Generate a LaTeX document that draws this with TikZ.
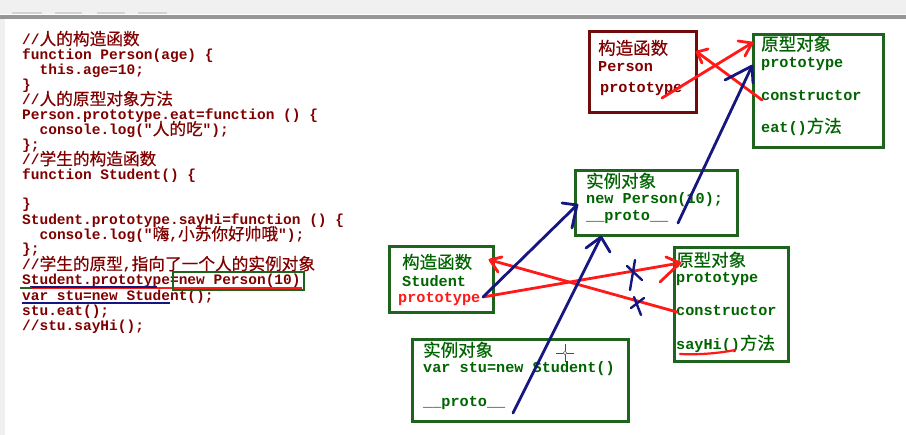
\documentclass[tikz,border=0pt]{standalone}
\usepackage{fontspec}
\setmonofont{Liberation Mono}
\newfontfamily\cjk[Scale=1.15,FakeBold=0.5]{Noto Sans CJK SC}
\newcommand\zh[1]{{\cjk\mdseries #1}}
\newcommand\codefnt{\fontsize{14.5}{15}\selectfont\ttfamily\bfseries}
\newcommand\boxfnt{\fontsize{15.2}{16}\selectfont\ttfamily\bfseries}
\definecolor{codered}{RGB}{128,0,0}
\definecolor{txtgreen}{RGB}{0,100,0}
\definecolor{boxgreen}{RGB}{30,100,30}
\definecolor{boxmaroon}{RGB}{112,12,12}
\definecolor{penred}{RGB}{255,25,25}
\definecolor{penblue}{RGB}{22,22,128}
\definecolor{barfill}{RGB}{240,240,240}
\definecolor{barline}{RGB}{150,150,150}
\begin{document}
\begin{tikzpicture}[x=1pt,y=-1pt,
  code/.style={anchor=base west,inner sep=0pt,font=\codefnt,text=codered,yshift=-5pt},
  btext/.style={anchor=base west,inner sep=0pt,font=\boxfnt,text=txtgreen,yshift=-5.5pt},
  gbox/.style={draw=boxgreen,line width=3pt,anchor=north west,inner sep=0pt},
  mbox/.style={draw=boxmaroon,line width=3pt,anchor=north west,inner sep=0pt},
  redpen/.style={draw=penred,line width=2.8pt,line cap=round,line join=round},
  bluepen/.style={draw=penblue,line width=2.8pt,line cap=round,line join=round}]
\useasboundingbox (0,0) rectangle (906,435);
\fill[white] (0,0) rectangle (906,435);
% window chrome
\fill[barfill] (0,0) rectangle (906,14);
\fill[barline] (0,15) rectangle (906,19);
\fill[barfill] (0,19) rectangle (5,435);
\foreach \a/\b in {12/42,55/82,97/125,138/167}{\fill[gray!35] (\a,12) rectangle (\b,14.5);}
% code
\node[code] (c1) at (22,40) {//\zh{人的构造函数}};
\node[code] (c2) at (22,55) {function Person(age) \{};
\node[code] (c3) at (39.4,70) {this.age=10;};
\node[code] (c4) at (22,85) {\}};
\node[code] (c5) at (22,100) {//\zh{人的原型对象方法}};
\node[code] (c6) at (22,115) {Person.prototype.eat=function () \{};
\node[code] (c7) at (39.4,130) {console.log("\zh{人的吃}");};
\node[code] (c8) at (22,145) {\};};
\node[code] (c9) at (22,160) {//\zh{学生的构造函数}};
\node[code] (c10) at (22,175) {function Student() \{};
\node[code] (c12) at (22,204) {\}};
\node[code] (c13) at (22,220) {Student.prototype.sayHi=function () \{};
\node[code] (c14) at (39.4,235) {console.log("\zh{嗨},\zh{小苏你好帅哦}");};
\node[code] (c15) at (22,249) {\};};
\node[code] (c16) at (22,265) {//\zh{学生的原型},\zh{指向了一个人的实例对象}};
\node[code] (c17) at (22,280) {Student.prototype=new Person(10)};
\node[code] (c18) at (22,296) {var stu=new Student();};
\node[code] (c19) at (22,311) {stu.eat();};
\node[code] (c20) at (22,326) {//stu.sayHi();};
% code annotations
\draw[draw=penred,line width=2pt] (30,288.5) -- (302,288.5);
\draw[draw=penblue,line width=2.4pt] (30,287) -- (157,287);
\draw[draw=boxgreen,line width=2.2pt] (20,288) -- (32,288);
\draw[draw=penblue,line width=2.4pt] (22,303) -- (170,303);
\draw[draw=boxgreen,line width=2.6pt] (173,272) rectangle (304,290);
% boxes
\node[mbox,minimum width=107pt,minimum height=81pt] (pctor) at (588,30) {};
\node[btext,text=codered] (pct1) at (598,49) {\zh{构造函数}};
\node[btext,text=codered] (pct2) at (598,66) {Person};
\node[btext,text=codered] (pct3) at (600,87) {prototype};
\node[gbox,minimum width=130pt,minimum height=113pt] (pproto) at (752,33) {};
\node[btext] (pp1) at (761,45) {\zh{原型对象}};
\node[btext] (pp2) at (761,62) {prototype};
\node[btext] (pp3) at (761,95) {constructor};
\node[btext] (pp4) at (761,127) {eat()\zh{方法}};
\node[gbox,minimum width=162pt,minimum height=65pt] (pinst) at (574,169) {};
\node[btext] (pi1) at (586,182) {\zh{实例对象}};
\node[btext] (pi2) at (586,198) {new Person(10);};
\node[btext] (pi3) at (586,215) {\_\_proto\_\_};
\node[gbox,minimum width=104pt,minimum height=66pt] (sctor) at (388,245) {};
\node[btext] (sc1) at (402,263) {\zh{构造函数}};
\node[btext] (sc2) at (402,281) {Student};
\node[btext,text=penred] (sc3) at (398,297) {prototype};
\node[gbox,minimum width=114pt,minimum height=114pt] (sproto) at (673,246) {};
\node[btext] (sp1) at (676,261) {\zh{原型对象}};
\node[btext] (sp2) at (676,277) {prototype};
\node[btext] (sp3) at (676,310) {constructor};
\node[btext] (sp4) at (676,344) {sayHi()\zh{方法}};
\node[gbox,minimum width=216pt,minimum height=82pt] (stu) at (411,338) {};
\node[btext] (st1) at (423,351) {\zh{实例对象}};
\node[btext] (st2) at (423,367) {var stu=new Student()};
\node[btext] (st3) at (423,401) {\_\_proto\_\_};
% pen strokes: Person section
\coordinate (a1s) at (662,98);  \coordinate (a1e) at (752,43);
\coordinate (a2s) at (762,100); \coordinate (a2e) at (697,52);
\coordinate (a3s) at (678,223); \coordinate (a3e) at (752,66);
\draw[redpen] (a1s) -- (a1e);
\draw[redpen] (738,41) -- (a1e) -- (745,56);
\draw[redpen] (a2s) -- (a2e);
\draw[redpen] (708,49) -- (a2e) -- (702,63);
\draw[bluepen] (a3s) -- (a3e);
\draw[bluepen] (725,80) -- (a3e) -- (753,83);
% pen strokes: Student section
\coordinate (a4s) at (483,297); \coordinate (a4e) at (680,263);
\coordinate (a5s) at (677,312); \coordinate (a5e) at (490,260);
\coordinate (a6s) at (483,297); \coordinate (a6e) at (577,205);
\coordinate (a7s) at (513,413); \coordinate (a7e) at (601,237);
\draw[redpen] (a4s) -- (a4e);
\draw[redpen] (666,257) -- (a4e) -- (660,282);
\draw[redpen] (a5s) -- (a5e);
\draw[redpen] (502,257) -- (a5e) -- (498,272);
\draw[bluepen] (a6s) -- (a6e);
\draw[bluepen] (562,203) -- (a6e) -- (572,228);
\draw[bluepen] (a7s) -- (a7e);
\draw[bluepen] (586,248) -- (a7e) -- (610,252);
% crosses
\draw[bluepen,line width=2.4pt] (635,260) -- (630,290);
\draw[bluepen,line width=2.4pt] (627,266) -- (642,280);
\draw[bluepen,line width=2.4pt] (634,297) -- (641,315);
\draw[bluepen,line width=2.4pt] (631,308) -- (644,298);
% sayHi underline
\draw[redpen,line width=2.2pt] (680,354) .. controls (700,355) and (720,353) .. (735,350);
% mouse cursor
\draw[black!70,line width=0.9pt] (556,353) -- (574,353) (565,344) -- (565,362);
\draw[black!60,fill=white,line width=0.6pt] (565,353) circle (1.8);
\end{tikzpicture}
\end{document}
